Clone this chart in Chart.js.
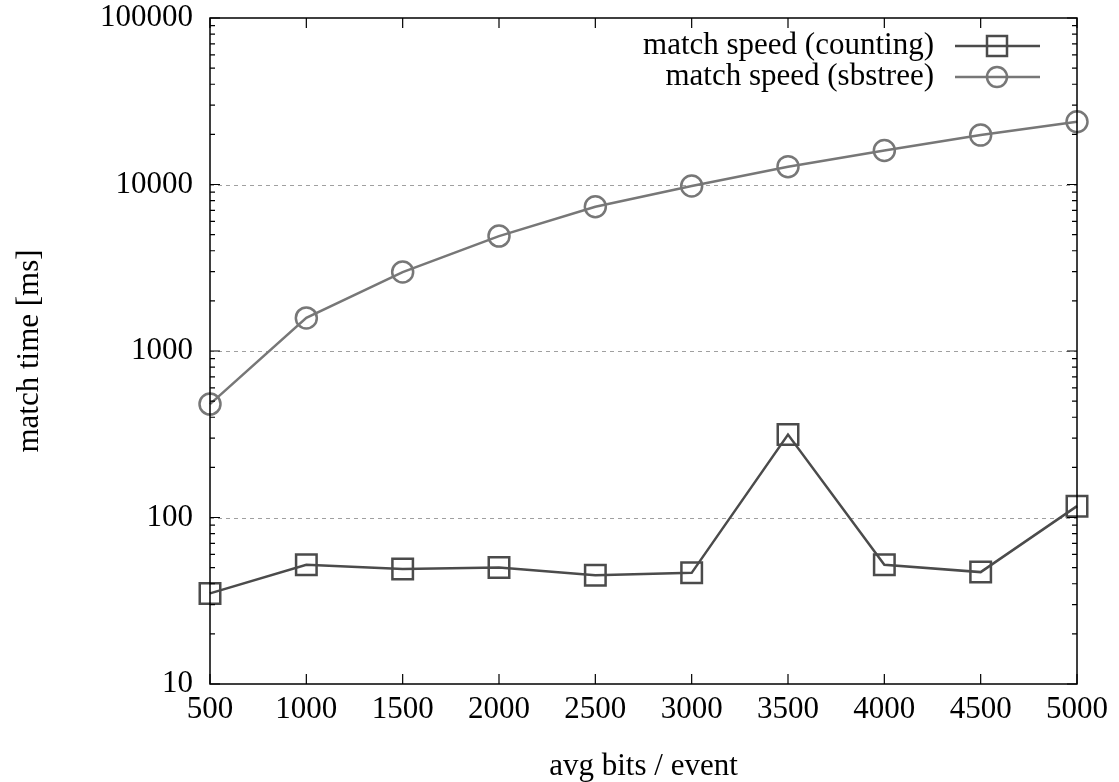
<!DOCTYPE html>
<html>
<head>
<meta charset="utf-8">
<script src="https://cdn.jsdelivr.net/npm/chart.js@4.4.1/dist/chart.umd.min.js"></script>
<style>
  html, body { margin: 0; padding: 0; background: #fff; }
  #wrap { width: 1119px; height: 782px; }
</style>
</head>
<body>
<div id="wrap"><canvas id="mainChart" width="1119" height="782"></canvas></div>
<script>
const bitsPerEvent = [500, 1000, 1500, 2000, 2500, 3000, 3500, 4000, 4500, 5000];
const countingTimes = [35, 52, 49, 50, 45, 46.5, 315, 52, 47, 117];
const sbstreeTimes = [480, 1580, 2980, 4900, 7350, 9800, 12800, 16000, 19800, 23800];
const xTicks = [500, 1000, 1500, 2000, 2500, 3000, 3500, 4000, 4500, 5000];
const yTicks = [10, 100, 1000, 10000, 100000];

const serif = '"Liberation Serif", "DejaVu Serif", serif';
const fontSize = 31;

// gnuplot-like frame, inward ticks, dashed grid and legend
const gnuplotLook = {
    id: 'gnuplotLook',
    beforeDatasetsDraw(chart) {
        const ctx = chart.ctx;
        const a = chart.chartArea;
        const y = chart.scales.y;
        ctx.save();
        ctx.strokeStyle = '#a0a0a0';
        ctx.lineWidth = 1;
        ctx.setLineDash([4, 4]);
        yTicks.slice(1, -1).forEach(v => {
            const py = Math.round(y.getPixelForValue(v)) + 0.5;
            ctx.beginPath();
            ctx.moveTo(a.left, py);
            ctx.lineTo(a.right, py);
            ctx.stroke();
        });
        ctx.setLineDash([]);
        ctx.restore();
    },
    afterDatasetsDraw(chart) {
        const ctx = chart.ctx;
        const a = chart.chartArea;
        const x = chart.scales.x, y = chart.scales.y;
        ctx.save();
        ctx.strokeStyle = '#000';
        ctx.lineWidth = 1.5;
        ctx.strokeRect(a.left, a.top, a.right - a.left, a.bottom - a.top);

        ctx.lineWidth = 1.2;
        ctx.beginPath();
        xTicks.forEach(v => {
            const px = x.getPixelForValue(v);
            ctx.moveTo(px, a.bottom); ctx.lineTo(px, a.bottom - 10);
            ctx.moveTo(px, a.top); ctx.lineTo(px, a.top + 10);
        });
        for (let d = 10; d < 100000; d *= 10) {
            for (let m = 1; m <= 10; m++) {
                const py = y.getPixelForValue(d * m);
                const len = (m === 1 || m === 10) ? 10 : 5;
                ctx.moveTo(a.left, py); ctx.lineTo(a.left + len, py);
                ctx.moveTo(a.right, py); ctx.lineTo(a.right - len, py);
            }
        }
        ctx.stroke();

        // legend
        ctx.font = fontSize + 'px ' + serif;
        ctx.textAlign = 'right';
        ctx.textBaseline = 'middle';
        chart.data.datasets.forEach((ds, i) => {
            const ly = 46 + i * 31;
            ctx.fillStyle = '#000';
            ctx.fillText(ds.label, 934, ly);
            ctx.strokeStyle = ds.borderColor;
            ctx.lineWidth = 2.5;
            ctx.beginPath();
            ctx.moveTo(955, ly); ctx.lineTo(1040, ly);
            ctx.stroke();
            ctx.beginPath();
            if (ds.pointStyle === 'rect') {
                ctx.rect(987, ly - 10, 20, 20);
            } else {
                ctx.arc(997, ly, 10, 0, Math.PI * 2);
            }
            ctx.stroke();
        });
        ctx.restore();
    }
};

const ctx = document.getElementById('mainChart').getContext('2d');
const matchChart = new Chart(ctx, {
    type: 'line',
    data: {
        labels: bitsPerEvent,
        datasets: [{
            label: 'match speed (counting)',
            data: bitsPerEvent.map((b, i) => ({ x: b, y: countingTimes[i] })),
            borderColor: '#4b4b4b',
            borderWidth: 2.5,
            pointStyle: 'rect',
            pointRadius: 14.5,
            pointBorderWidth: 2.5,
            pointBackgroundColor: 'transparent',
            pointBorderColor: '#4b4b4b',
            tension: 0,
            clip: false
        }, {
            label: 'match speed (sbstree)',
            data: bitsPerEvent.map((b, i) => ({ x: b, y: sbstreeTimes[i] })),
            borderColor: '#777777',
            borderWidth: 2.5,
            pointStyle: 'circle',
            pointRadius: 10.5,
            pointBorderWidth: 2.5,
            pointBackgroundColor: 'transparent',
            pointBorderColor: '#777777',
            tension: 0,
            clip: false
        }]
    },
    options: {
        responsive: false,
        animation: false,
        layout: { padding: { top: 18, right: 42, left: 0, bottom: 0 } },
        plugins: {
            legend: { display: false },
            tooltip: { enabled: false }
        },
        scales: {
            x: {
                type: 'linear',
                min: 500,
                max: 5000,
                afterFit(scale) {
                    scale.height = 98;
                    scale.paddingLeft = 0;
                    scale.paddingRight = 0;
                },
                afterBuildTicks(scale) { scale.ticks = xTicks.map(v => ({ value: v })); },
                grid: { display: false, drawTicks: false },
                border: { display: false },
                ticks: {
                    color: '#000',
                    padding: 7,
                    maxRotation: 0,
                    autoSkip: false,
                    font: { family: serif, size: fontSize },
                    callback: v => String(v)
                },
                title: {
                    display: true,
                    text: 'avg bits / event',
                    color: '#000',
                    padding: { top: 0, bottom: 0 },
                    font: { family: serif, size: fontSize, lineHeight: 1 }
                }
            },
            y: {
                type: 'logarithmic',
                min: 10,
                max: 100000,
                afterFit(scale) {
                    scale.width = 210;
                    scale.paddingTop = 0;
                    scale.paddingBottom = 0;
                },
                afterBuildTicks(scale) { scale.ticks = yTicks.map(v => ({ value: v })); },
                grid: { display: false, drawTicks: false },
                border: { display: false },
                ticks: {
                    color: '#000',
                    padding: 17,
                    autoSkip: false,
                    font: { family: serif, size: fontSize },
                    callback: v => String(v)
                },
                title: {
                    display: true,
                    text: 'match time [ms]',
                    color: '#000',
                    padding: { top: 14, bottom: 0 },
                    font: { family: serif, size: fontSize, lineHeight: 1 }
                }
            }
        }
    },
    plugins: [gnuplotLook]
});
</script>
</body>
</html>
